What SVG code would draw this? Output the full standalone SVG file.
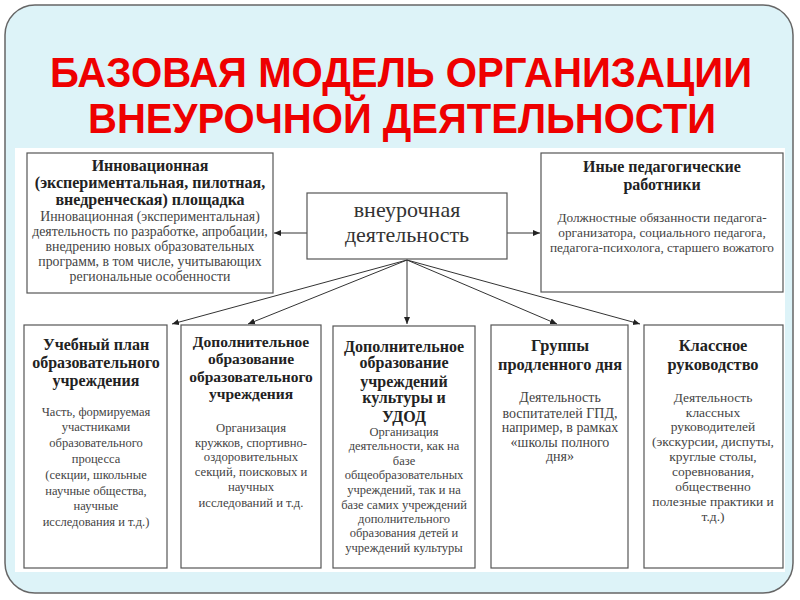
<svg xmlns="http://www.w3.org/2000/svg" width="800" height="600" viewBox="0 0 800 600">
<defs>
<marker id="arr" markerWidth="8" markerHeight="8" refX="7" refY="4" orient="auto" markerUnits="userSpaceOnUse">
<path d="M0,1 L7,4 L0,7 Z" fill="#222"/>
</marker>
<style>
.box{fill:#fff;stroke:#555;stroke-width:1.2}
.h{font-family:'Liberation Serif','Times New Roman','DejaVu Serif',serif;font-weight:bold;font-size:16px;fill:#222;text-anchor:middle}
.b{font-family:'Liberation Serif','Times New Roman','DejaVu Serif',serif;font-size:12.5px;fill:#444;text-anchor:middle}
.c{font-family:'Liberation Serif','Times New Roman','DejaVu Serif',serif;font-size:22px;fill:#333;text-anchor:middle}
.t{font-family:'Liberation Sans','DejaVu Sans',sans-serif;font-weight:bold;font-size:42px;fill:#ee0000;text-anchor:middle}
.ln{stroke:#333;stroke-width:1;fill:none}
#innov .b{font-size:13.8px}
#other .b{font-size:13.3px}
#dop1 .h{font-size:15.5px}
#dop1 .b{font-size:12.7px}
#gpd .h,#klass .h{font-size:16.4px}
#gpd .b{font-size:14px}
#klass .b{font-size:13.5px}
</style>
</defs>
<rect x="5" y="5" width="788" height="588" rx="30" fill="#ddf3f8" stroke="#666" stroke-width="1.5"/>
<rect x="15" y="148" width="770" height="424" fill="#fff"/>
<g id="title">
<text class="t" x="401" y="87" textLength="702" lengthAdjust="spacingAndGlyphs">БАЗОВАЯ МОДЕЛЬ ОРГАНИЗАЦИИ</text>
<text class="t" x="402" y="133" textLength="628" lengthAdjust="spacingAndGlyphs">ВНЕУРОЧНОЙ ДЕЯТЕЛЬНОСТИ</text>
</g>
<g id="connectors">
<line class="ln" x1="307" y1="233" x2="274" y2="233" marker-end="url(#arr)"/>
<line class="ln" x1="507" y1="233" x2="540" y2="233" marker-end="url(#arr)"/>
<line class="ln" x1="407" y1="260" x2="172" y2="324" marker-end="url(#arr)"/>
<line class="ln" x1="407" y1="260" x2="248" y2="324" marker-end="url(#arr)"/>
<line class="ln" x1="407" y1="260" x2="407" y2="324" marker-end="url(#arr)"/>
<line class="ln" x1="407" y1="260" x2="557" y2="324" marker-end="url(#arr)"/>
<line class="ln" x1="407" y1="260" x2="640" y2="324" marker-end="url(#arr)"/>
</g>
<g id="center">
<rect class="box" x="307" y="193" width="200" height="66"/>
<text class="c" x="407" y="217">внеурочная</text>
<text class="c" x="407" y="242">деятельность</text>
</g>
<g id="innov">
<rect class="box" x="27" y="153" width="246" height="140"/>
<text class="h" x="150" y="171">Инновационная</text>
<text class="h" x="150" y="188">(экспериментальная, пилотная,</text>
<text class="h" x="150" y="205">внедренческая) площадка</text>
<text class="b" x="150" y="221">Инновационная (экспериментальная)</text>
<text class="b" x="150" y="236">деятельность по разработке, апробации,</text>
<text class="b" x="150" y="251">внедрению новых образовательных</text>
<text class="b" x="150" y="266">программ, в том числе, учитывающих</text>
<text class="b" x="150" y="281">региональные особенности</text>
</g>
<g id="other">
<rect class="box" x="541" y="153" width="242" height="139"/>
<text class="h" x="662" y="172">Иные педагогические</text>
<text class="h" x="662" y="190">работники</text>
<text class="b" x="662" y="222">Должностные обязанности педагога-</text>
<text class="b" x="662" y="237">организатора, социального педагога,</text>
<text class="b" x="662" y="252">педагога-психолога, старшего вожатого</text>
</g>
<g id="plan">
<rect class="box" x="24" y="325" width="143" height="243"/>
<text class="h" x="96" y="350">Учебный план</text>
<text class="h" x="96" y="368">образовательного</text>
<text class="h" x="96" y="386">учреждения</text>
<text class="b" x="96" y="416">Часть, формируемая</text>
<text class="b" x="96" y="431">участниками</text>
<text class="b" x="96" y="447">образовательного</text>
<text class="b" x="96" y="463">процесса</text>
<text class="b" x="96" y="479">(секции, школьные</text>
<text class="b" x="96" y="495">научные общества,</text>
<text class="b" x="96" y="510">научные</text>
<text class="b" x="96" y="526">исследования и т.д.)</text>
</g>
<g id="dop1">
<rect class="box" x="181" y="325" width="140" height="243"/>
<text class="h" x="251" y="347">Дополнительное</text>
<text class="h" x="251" y="364">образование</text>
<text class="h" x="251" y="382">образовательного</text>
<text class="h" x="251" y="399">учреждения</text>
<text class="b" x="251" y="432">Организация</text>
<text class="b" x="251" y="447">кружков, спортивно-</text>
<text class="b" x="251" y="461">оздоровительных</text>
<text class="b" x="251" y="476">секций, поисковых и</text>
<text class="b" x="251" y="491">научных</text>
<text class="b" x="251" y="507">исследований и т.д.</text>
</g>
<g id="dop2">
<rect class="box" x="333" y="326" width="142" height="242"/>
<text class="h" x="404" y="352">Дополнительное</text>
<text class="h" x="404" y="368">образование</text>
<text class="h" x="404" y="387">учреждений</text>
<text class="h" x="404" y="403">культуры и</text>
<text class="h" x="404" y="422">УДОД</text>
<text class="b" x="404" y="436">Организация</text>
<text class="b" x="404" y="450">деятельности, как на</text>
<text class="b" x="404" y="465">базе</text>
<text class="b" x="404" y="479">общеобразовательных</text>
<text class="b" x="404" y="494">учреждений, так и на</text>
<text class="b" x="404" y="509">базе самих учреждений</text>
<text class="b" x="404" y="523">дополнительного</text>
<text class="b" x="404" y="537">образования детей и</text>
<text class="b" x="404" y="552">учреждений культуры</text>
</g>
<g id="gpd">
<rect class="box" x="491" y="325" width="137" height="243"/>
<text class="h" x="560" y="351">Группы</text>
<text class="h" x="560" y="370">продленного дня</text>
<text class="b" x="560" y="402">Деятельность</text>
<text class="b" x="560" y="418">воспитателей ГПД,</text>
<text class="b" x="560" y="432">например, в рамках</text>
<text class="b" x="560" y="447">«школы полного</text>
<text class="b" x="560" y="461">дня»</text>
</g>
<g id="klass">
<rect class="box" x="644" y="325" width="139" height="243"/>
<text class="h" x="713" y="351">Классное</text>
<text class="h" x="713" y="370">руководство</text>
<text class="b" x="713" y="402">Деятельность</text>
<text class="b" x="713" y="417">классных</text>
<text class="b" x="713" y="431">руководителей</text>
<text class="b" x="713" y="446">(экскурсии, диспуты,</text>
<text class="b" x="713" y="461">круглые столы,</text>
<text class="b" x="713" y="476">соревнования,</text>
<text class="b" x="713" y="491">общественно</text>
<text class="b" x="713" y="506">полезные практики и</text>
<text class="b" x="713" y="521">т.д.)</text>
</g>
</svg>
